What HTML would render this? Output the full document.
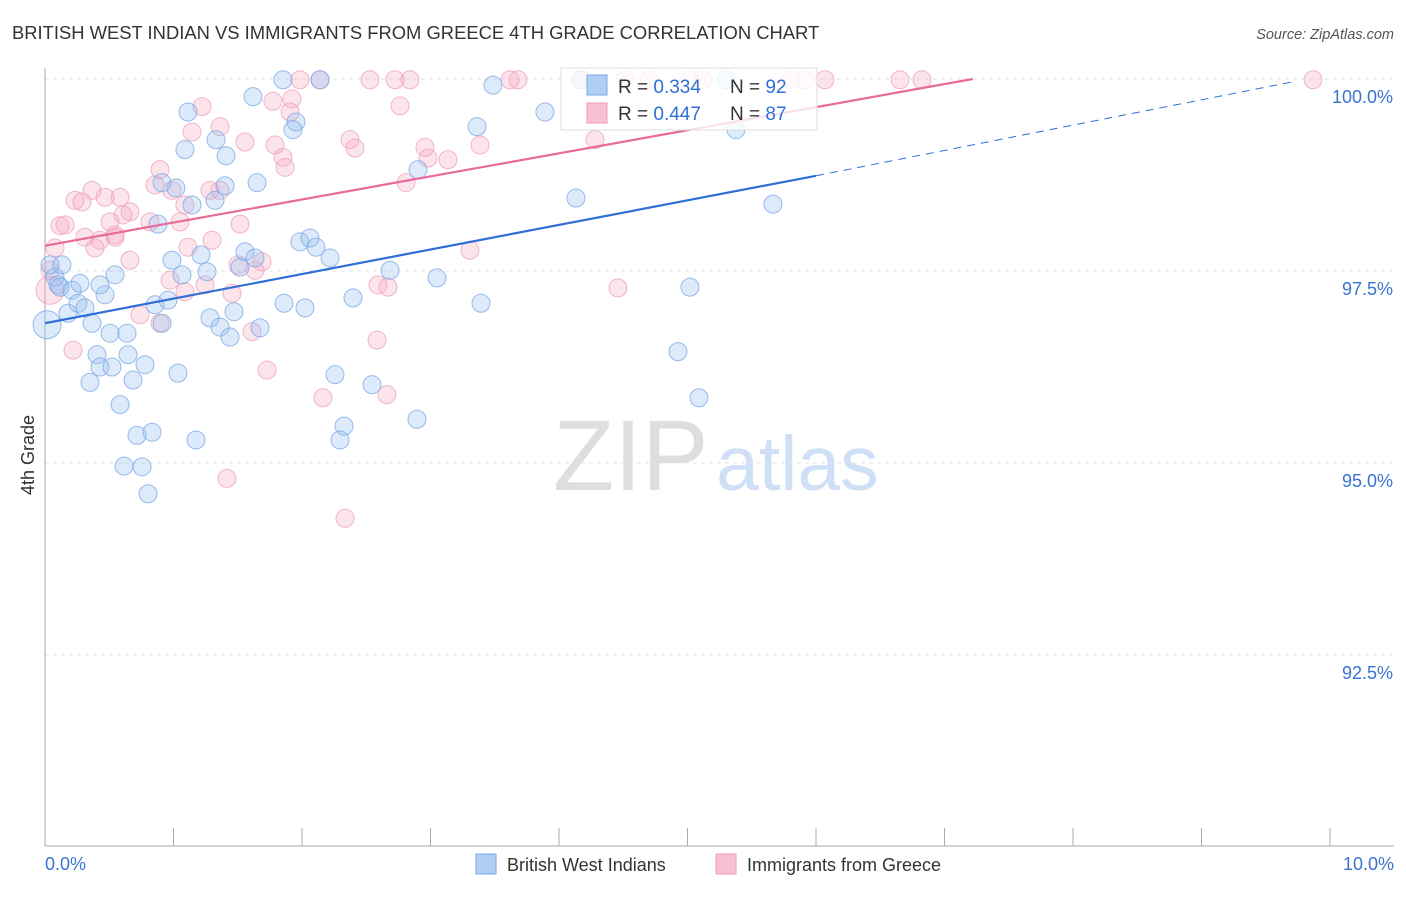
<!DOCTYPE html>
<html><head><meta charset="utf-8"><style>
body{margin:0;background:#fff;font-family:"Liberation Sans",sans-serif}
svg text{font-family:"Liberation Sans",sans-serif}
</style></head><body>
<svg id="chart" width="1406" height="892" xmlns="http://www.w3.org/2000/svg">
<text x="12" y="39" font-size="18.4" fill="#333">BRITISH WEST INDIAN VS IMMIGRANTS FROM GREECE 4TH GRADE CORRELATION CHART</text>
<text x="1394" y="39" font-size="14.5" fill="#555" text-anchor="end" font-style="italic">Source: ZipAtlas.com</text>
<text x="553" y="490" font-size="100" fill="#dedede" font-family="Liberation Serif">ZIP</text>
<text x="716" y="490" font-size="77" fill="#cfdff5">atlas</text>
<g id="grid"></g>
<g id="axes"></g>
<g id="pts"></g>
<g id="trends"></g>
<g>
<rect x="561" y="68" width="256" height="62" fill="#fff" fill-opacity="0.8" stroke="#ddd"/>
<rect x="587" y="75" width="20" height="20" fill="#b0cdf3" stroke="#7ba7e6"/>
<text x="618" y="93" font-size="19" fill="#333">R = <tspan fill="#2f6fd6">0.334</tspan></text>
<text x="730" y="93" font-size="19" fill="#333">N = <tspan fill="#2f6fd6">92</tspan></text>
<rect x="587" y="103" width="20" height="20" fill="#f8c0d2" stroke="#ee9ab6"/>
<text x="618" y="120" font-size="19" fill="#333">R = <tspan fill="#2f6fd6">0.447</tspan></text>
<text x="730" y="120" font-size="19" fill="#333">N = <tspan fill="#2f6fd6">87</tspan></text>
</g>
<g>
<rect x="476" y="854" width="20" height="20" fill="#b0cdf3" stroke="#7ba7e6"/>
<text x="507" y="871" font-size="18" fill="#333">British West Indians</text>
<rect x="716" y="854" width="20" height="20" fill="#f8c0d2" stroke="#ee9ab6"/>
<text x="747" y="871" font-size="18" fill="#333">Immigrants from Greece</text>
</g>
<text transform="translate(34,455) rotate(-90)" font-size="18" fill="#333" text-anchor="middle">4th Grade</text>
</svg>
<script>
const yTicks=[100,97.5,95,92.5];
const yTickLabels=["100.0%","97.5%","95.0%","92.5%"];
const xLabels=["0.0%","10.0%"];
const blueX=[.078,.039,.132,.101,.210,.117,.179,.257,.311,.272,.467,.428,.545,.366,.405,.350,.428,.521,.506,.638,.646,.685,.778,.584,.716,.833,.615,.755,.802,.856,.957,.911,1.035,1.066,.988,1.175,1.261,1.214,1.284,1.362,1.440,1.471,1.673,1.518,1.556,1.634,1.860,2.023,1.984,2.062,2.109,2.218,2.257,2.327,2.296,2.397,2.545,2.685,2.895,3.051,3.393,2.903,3.362,3.486,3.891,4.179,4.132,4.926,5.019,5.089,5.300,5.377,5.665,1.619,1.852,2.140,1.953,1.930,1.113,1.089,1.331,1.409,1.650,1.401,1.323,1.019,.911,.879,1.144,.016];
const blueY=[97.42,97.58,97.58,97.32,97.25,97.29,96.95,97.08,97.02,97.34,97.19,97.32,97.45,96.82,96.41,96.05,96.25,96.25,96.69,96.69,96.41,96.08,96.28,95.76,95.36,95.40,94.96,94.95,94.60,97.06,97.12,96.82,96.17,97.45,97.64,95.30,97.49,97.71,96.89,96.77,96.64,96.97,96.76,97.55,97.75,97.67,97.08,97.02,97.88,97.93,97.81,97.67,96.15,95.48,95.30,97.15,96.02,97.51,95.57,97.41,97.08,98.82,99.38,99.92,99.57,99.99,98.45,96.45,97.29,95.85,99.99,99.34,98.37,99.77,99.99,99.99,99.44,99.34,99.57,99.08,99.21,99.00,98.65,98.61,98.42,98.58,98.65,98.11,98.36,96.80];
const pinkX=[2.140,1.984,2.529,2.724,2.840,3.619,3.681,4.163,4.514,4.708,5.019,5.121,5.798,5.914,6.070,6.654,6.825,9.868,1.774,1.922,1.907,2.763,1.222,1.144,1.362,1.556,1.790,1.852,1.868,2.374,2.412,2.957,2.981,3.136,3.385,4.280,3.307,4.459,2.809,.895,.856,.988,1.089,1.284,1.362,1.518,1.051,.817,.661,.584,.607,.506,.428,.366,.467,.288,.233,.156,.117,.078,.039,.039,.311,.389,.545,.661,.739,.895,.973,1.089,1.113,1.300,1.245,1.455,1.502,1.634,1.689,1.611,1.728,2.163,2.335,2.591,2.669,2.584,2.661,1.416,.218,.545];
const pinkY=[99.99,99.99,99.99,99.99,99.99,99.99,99.99,99.99,99.99,99.99,99.99,99.99,99.99,99.99,99.99,99.99,99.99,99.99,99.71,99.74,99.57,99.65,99.64,99.31,99.38,99.18,99.14,98.98,98.85,99.21,99.10,99.11,98.97,98.95,99.14,99.21,97.77,97.28,98.65,98.82,98.62,98.55,98.36,98.55,98.55,98.11,98.14,98.14,98.27,98.46,98.23,98.14,97.90,98.55,98.46,98.40,98.42,98.10,98.09,97.80,97.51,97.25,97.94,97.80,97.97,97.64,96.93,96.82,97.38,97.23,97.81,97.90,97.32,97.21,97.58,97.51,97.62,96.71,96.21,95.85,94.28,97.32,97.29,96.60,95.89,94.80,96.47,97.94];
const blueTrend=[[0,96.82],[6,98.74],[9.7,99.96]];
const pinkTrend=[[0,97.83],[7.22,100]];
const NS="http://www.w3.org/2000/svg";
const X=v=>45+v*128.5, Y=v=>79+(100-v)*76.8;
function mk(t,a,p){const e=document.createElementNS(NS,t);for(const k in a)e.setAttribute(k,a[k]);p.appendChild(e);return e;}
const grid=document.getElementById('grid'),axes=document.getElementById('axes');
yTicks.forEach((t,i)=>{
 const l=mk('line',{x1:45,x2:1394,y1:Y(t),y2:Y(t),stroke:'#e2e2e2','stroke-dasharray':'4,4'},grid);
 
 
 const tx=mk('text',{x:1393,y:Y(t)+24,'font-size':18,fill:'#3b73d1','text-anchor':'end'},axes);
 tx.textContent=yTickLabels[i];
 
 
});
const ya=mk('line',{x1:45,x2:45,y1:68,y2:846,stroke:'#aaa'},axes);


const xa=mk('line',{x1:45,x2:1394,y1:846,y2:846,stroke:'#aaa'},axes);


for(let i=1;i<=10;i++){const t=mk('line',{x1:X(i),x2:X(i),y1:828,y2:846,stroke:'#aaa'},axes);
 
 }
[[0,'start',45],[10,'end',1394]].forEach((d,i)=>{const t=mk('text',{x:d[2],y:870,'font-size':18,fill:'#3b73d1','text-anchor':d[1]},axes);t.textContent=xLabels[i];
 
 });
const pts=document.getElementById('pts');
function draw(xs,ys,fill,stroke,name){xs.forEach((x,i)=>{const big=x<0.05&&(i===xs.length-1||name==='pink-point'&&i===61);
 const c=mk('circle',{cx:X(x),cy:Y(ys[i]),r:big?14:9,fill:fill,stroke:stroke,'stroke-width':1,'stroke-opacity':0.75},pts);
 
 });}
draw(pinkX,pinkY,'rgba(245,165,190,0.3)','#ee9fba','pink-point');
draw(blueX,blueY,'rgba(150,190,240,0.33)','#78a6e4','blue-point');
const tr=document.getElementById('trends');
const b1=mk('line',{x1:X(blueTrend[0][0]),y1:Y(blueTrend[0][1]),x2:X(blueTrend[1][0]),y2:Y(blueTrend[1][1]),stroke:'#2f6fd6','stroke-width':2.2},tr);


const b2=mk('line',{x1:X(blueTrend[1][0]),y1:Y(blueTrend[1][1]),x2:X(blueTrend[2][0]),y2:Y(blueTrend[2][1]),stroke:'#2f6fd6','stroke-width':1,'stroke-dasharray':'8,6'},tr);


const p1=mk('line',{x1:X(pinkTrend[0][0]),y1:Y(pinkTrend[0][1]),x2:X(pinkTrend[1][0]),y2:Y(pinkTrend[1][1]),stroke:'#e8699a','stroke-width':2.2},tr);


</script>
</body></html>
